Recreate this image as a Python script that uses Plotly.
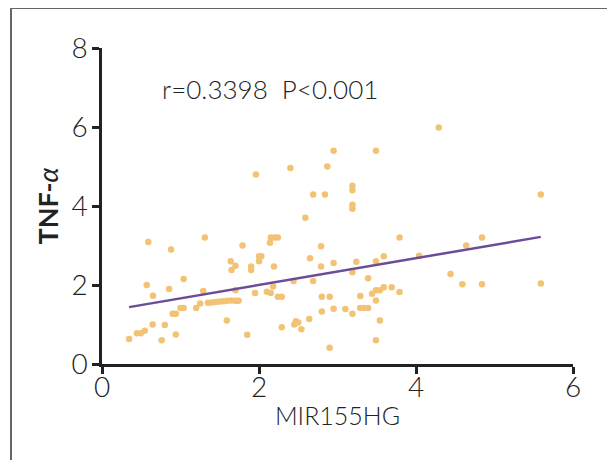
import plotly.graph_objects as go
import numpy as np

mir155hg = [0.345, 0.445, 0.495, 0.545, 0.57, 0.59, 0.645, 0.65, 0.76, 0.80, 0.855, 0.88, 0.90, 0.94, 0.94,
            1.0, 1.04, 1.04, 1.2, 1.25, 1.29, 1.31, 1.35, 1.40, 1.45, 1.50, 1.55, 1.60, 1.65, 1.70, 1.74,
            1.59, 1.64, 1.65, 1.70, 1.70, 1.79, 1.85, 1.90, 1.90, 1.95, 1.96, 2.0, 2.0, 2.03, 2.10, 2.14, 2.15,
            2.20, 2.24, 2.19, 2.18, 2.15, 2.24, 2.29, 2.29, 2.40, 2.44, 2.45, 2.47, 2.50, 2.54, 2.59, 2.64,
            2.65, 2.69, 2.69, 2.79, 2.79, 2.80, 2.80, 2.84, 2.87, 2.90, 2.90, 2.95, 2.95, 2.95, 3.10,
            3.19, 3.19, 3.19, 3.19, 3.19, 3.19, 3.24, 3.29, 3.29, 3.34, 3.39, 3.39, 3.44, 3.49, 3.49, 3.49,
            3.49, 3.49, 3.54, 3.54, 3.59, 3.59, 3.69, 3.79, 3.79, 4.04, 4.29, 4.44, 4.59, 4.64, 4.84, 4.84,
            5.59, 5.59]
tnf_alpha = [0.63, 0.78, 0.78, 0.84, 2.0, 3.09, 1.0, 1.73, 0.6, 0.99, 1.9, 2.9, 1.27, 1.27, 0.75,
             1.42, 1.42, 2.15, 1.42, 1.53, 1.85, 3.2, 1.55, 1.56, 1.57, 1.58, 1.59, 1.60, 1.61, 1.60, 1.60,
             1.1, 2.6, 2.38, 2.49, 1.87, 3.0, 0.74, 2.47, 2.38, 1.8, 4.8, 2.6, 2.73, 2.73, 1.83, 3.07, 1.8,
             3.2, 3.2, 2.47, 1.96, 3.2, 1.7, 1.7, 0.93, 4.96, 2.1, 1.0, 1.08, 1.05, 0.88, 3.7, 1.14,
             2.68, 4.29, 2.1, 2.98, 2.47, 1.7, 1.33, 4.29, 5.0, 1.7, 0.41, 5.4, 2.56, 1.4, 1.39,
             4.51, 4.4, 4.03, 3.93, 2.32, 1.27, 2.59, 1.72, 1.42, 1.42, 1.42, 2.17, 1.78, 5.4, 2.6, 1.87,
             1.61, 0.6, 1.1, 1.87, 1.94, 2.73, 1.94, 3.2, 1.82, 2.74, 5.99, 2.28, 2.02, 3.0, 3.2, 2.02,
             4.29, 2.04]

fit_slope = 0.339
fit_intercept = 1.323
annotation_text = "r=0.3398  P<0.001"
x_ticks = [0, 2, 4, 6]
y_ticks = [0, 2, 4, 6, 8]

xs = np.array(mir155hg)
line_x = [xs.min(), xs.max()]
line_y = [fit_intercept + fit_slope * v for v in line_x]

font_family = "Lato, 'Open Sans', sans-serif"
tick_font = dict(size=28, family=font_family, color="#222", weight=300)

fig = go.Figure()
fig.add_trace(go.Scatter(x=mir155hg, y=tnf_alpha, mode="markers",
                         marker=dict(size=6.5, color="#F2C374", line=dict(width=0)),
                         showlegend=False, cliponaxis=False))
fig.add_trace(go.Scatter(x=line_x, y=line_y, mode="lines",
                         line=dict(color="#6A4C98", width=2.5), showlegend=False))

fig.update_layout(
    width=607, height=452,
    margin=dict(l=94, r=42, t=40, b=96),
    paper_bgcolor="white", plot_bgcolor="white",
    font=dict(family=font_family, color="#222"),
    xaxis=dict(range=[0, 6], tickvals=x_ticks, showgrid=False, zeroline=False, automargin=False,
               showline=True, linecolor="#222", linewidth=2.5,
               ticks="outside", ticklen=7, tickwidth=2.5, tickcolor="#222",
               tickfont=tick_font, ticklabelstandoff=-10,
               title=dict(text="MIR155HG", font=dict(size=25, family=font_family, color="#222", weight=300), standoff=6)),
    yaxis=dict(range=[0, 8], tickvals=y_ticks, showgrid=False, zeroline=False, automargin=False,
               showline=True, linecolor="#222", linewidth=2.5,
               ticks="outside", ticklen=7, tickwidth=2.5, tickcolor="#222",
               tickfont=tick_font, ticklabelstandoff=-1,
               title=dict(text="<b>TNF-</b><i>α</i>", font=dict(size=27, family=font_family, color="#222"), standoff=5)),
    annotations=[dict(text=annotation_text, x=0.74, y=6.96, xref="x", yref="y",
                      xanchor="left", yanchor="middle", showarrow=False,
                      font=dict(size=26, family=font_family, color="#222", weight=300))],
    shapes=[dict(type="rect", xref="paper", yref="paper",
                 x0=-0.1932, x1=1.087, y0=-0.34, y1=1.1266,
                 line=dict(color="#666", width=2), layer="below")],
)

fig.write_html("out.html")
